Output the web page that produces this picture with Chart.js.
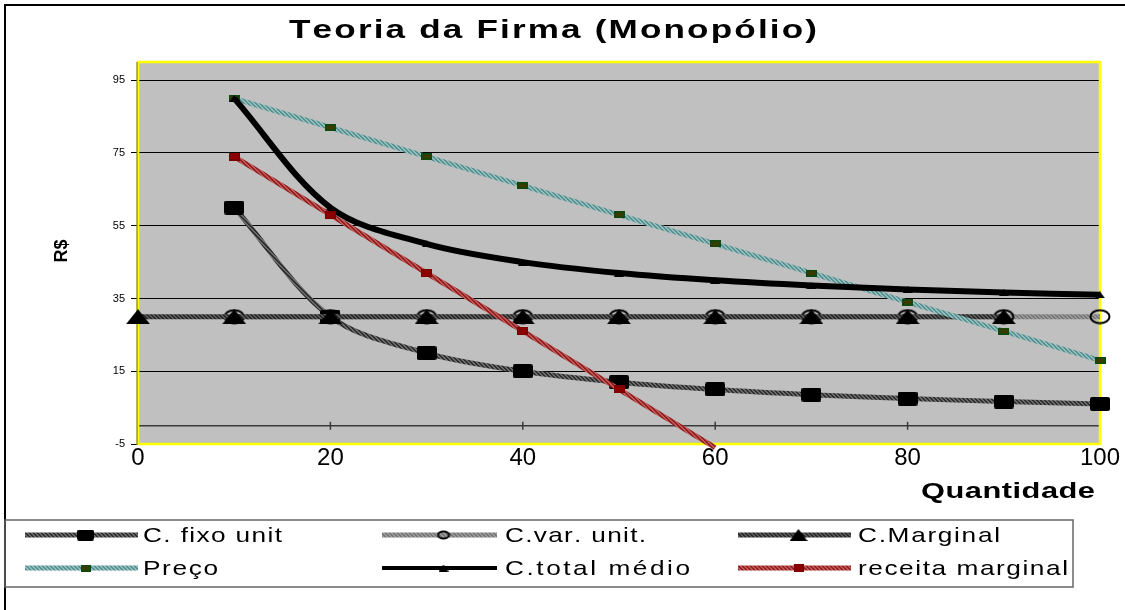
<!DOCTYPE html>
<html><head><meta charset="utf-8">
<script src="https://cdn.jsdelivr.net/npm/chart.js@4.4.1/dist/chart.umd.min.js"></script>
<style>html,body{margin:0;padding:0;background:#fff}#wrap{width:1125px;height:610px;position:relative}canvas{display:block}</style>
</head><body><div id="wrap"><canvas id="c" width="1125" height="610"></canvas></div>
<script>
// ---- data ----
const TITLE = 'Teoria da Firma (Monopólio)';
const X_TITLE = 'Quantidade';
const Y_TITLE = 'R$';
const SERIES_NAMES = ['C. fixo unit', 'C.var. unit.', 'C.Marginal', 'Preço', 'C.total médio', 'receita marginal'];
const QTY = [10, 20, 30, 40, 50, 60, 70, 80, 90, 100];
const QTY_MARGINAL = [0, 10, 20, 30, 40, 50, 60, 70, 80, 90];
const QTY_RECEITA = [10, 20, 30, 40, 50, 60];
const C_FIXO = [60, 30, 20, 15, 12, 10, 8.57, 7.5, 6.67, 6];
const C_VAR = [30, 30, 30, 30, 30, 30, 30, 30, 30, 30];
const C_MARGINAL = [30, 30, 30, 30, 30, 30, 30, 30, 30, 30];
const PRECO = [90, 82, 74, 66, 58, 50, 42, 34, 26, 18];
const C_TOTAL = [90, 60, 50, 45, 42, 40, 38.57, 37.5, 36.67, 36];
const RECEITA = [74, 58, 42, 26, 10, -6];
const X_TICKS = [0, 20, 40, 60, 80, 100];
const Y_TICKS = [-5, 15, 35, 55, 75, 95];
const Y_MIN = -5, Y_MAX = 100, X_MIN = 0, X_MAX = 100;

// ---- styles ----
const canvas = document.getElementById('c');
const ctx = canvas.getContext('2d');
function hatch(a, b) {
  const c = document.createElement('canvas'); c.width = 4; c.height = 4;
  const g = c.getContext('2d');
  g.fillStyle = b; g.fillRect(0, 0, 4, 4);
  g.fillStyle = a;
  for (let i = 0; i < 4; i++) { g.fillRect(i, i, 1, 1); g.fillRect((i + 1) % 4, i, 1, 1); }
  return ctx.createPattern(c, 'repeat');
}
function marker(w, h, fn) { const c = document.createElement('canvas'); c.width = w; c.height = h; fn(c.getContext('2d'), w, h); return c; }
const rectM = (w, h, fill, stroke, lw, r) => marker(w, h, g => {
  g.fillStyle = fill; g.beginPath();
  if (g.roundRect) g.roundRect(0, 0, w, h, r || 0); else g.rect(0, 0, w, h);
  g.fill();
  if (stroke) { g.strokeStyle = stroke; g.lineWidth = lw; g.strokeRect(lw / 2, lw / 2, w - lw, h - lw); }
});
const ellM = (w, h) => marker(w, h, g => { g.strokeStyle = '#000'; g.lineWidth = 2; g.beginPath(); g.ellipse(w / 2, h / 2, w / 2 - 1.5, h / 2 - 1.5, 0, 0, Math.PI * 2); g.stroke(); });
const triM = (w, h) => marker(w, h, g => { g.fillStyle = '#000'; g.beginPath(); g.moveTo(0, h); g.lineTo(w, h); g.lineTo(w / 2, 0); g.closePath(); g.fill(); });

const LINE_COLORS = [hatch('#2e2e2e', '#6a6a6a'), hatch('#777777', '#9a9a9a'), hatch('#2a2a2a', '#585858'), hatch('#5c8e8e', '#8fc0c0'), '#000000', hatch('#8e2020', '#c25656')];
const LINE_WIDTHS = [5, 5, 5, 5, 6, 5];
const TENSIONS = [0.33, 0, 0, 0, 0.33, 0];
const MARKERS = [rectM(20, 14, '#000', null, 0, 2), ellM(22, 16), triM(24, 15), rectM(11, 7, '#3b3b00', '#0e4a0e', 1.5), triM(10, 7), rectM(11, 8, '#8b0000', '#7a0000', 1)];
const LEGEND_MARKERS = [rectM(17, 11, '#000', null, 0, 2), ellM(14, 10), triM(18, 12), rectM(10, 7, '#3b3b00', '#0e4a0e', 1.5), triM(10, 7), rectM(10, 8, '#8b0000', '#7a0000', 1)];

const mkPts = (xs, ys) => xs.map((x, i) => ({ x: x, y: ys[i] }));
const SERIES = [mkPts(QTY, C_FIXO), mkPts(QTY, C_VAR), mkPts(QTY_MARGINAL, C_MARGINAL), mkPts(QTY, PRECO), mkPts(QTY, C_TOTAL), mkPts(QTY_RECEITA, RECEITA)];

const datasets = SERIES.map((d, i) => ({
  label: SERIES_NAMES[i], data: d,
  borderColor: LINE_COLORS[i], backgroundColor: 'transparent',
  borderWidth: LINE_WIDTHS[i], tension: TENSIONS[i],
  pointStyle: MARKERS[i],
  pointRadius: c => (c.raw && c.raw.y < Y_MIN) ? 0 : 5,
  pointBorderWidth: 0,
  clip: false, order: 6 - i, fill: false
}));

function drawFit(c, text, x, y, width, align, font, sxMax) {
  c.save();
  c.font = font;
  const w0 = c.measureText(text).width;
  const sx = Math.min(Math.max(width / w0, 1), sxMax);
  const chars = Array.from(text);
  let wc = 0; chars.forEach(ch => wc += c.measureText(ch).width);
  const sp = chars.length > 1 ? (width / sx - wc) / (chars.length - 1) : 0;
  const left = align === 'center' ? x - width / 2 : (align === 'right' ? x - width : x);
  c.translate(left, y); c.scale(sx, 1);
  c.textAlign = 'left';
  let cur = 0;
  chars.forEach(ch => { c.fillText(ch, cur, 0); cur += c.measureText(ch).width + sp; });
  c.restore();
}

const FONT = '"Liberation Sans", Arial, sans-serif';
const decor = {
  id: 'decor',
  beforeDraw(chart) {
    const c = chart.ctx, a = chart.chartArea;
    c.save();
    c.fillStyle = '#fff'; c.fillRect(0, 0, chart.width, chart.height);
    c.strokeStyle = '#000'; c.lineWidth = 2; c.strokeRect(5, 5, 1400, 900);
    c.fillStyle = '#c0c0c0'; c.fillRect(a.left, a.top, a.right - a.left, a.bottom - a.top);
    c.restore();
  },
  beforeDatasetsDraw(chart) {
    const c = chart.ctx, a = chart.chartArea, xs = chart.scales.x, ys = chart.scales.y;
    c.save();
    const y0 = ys.getPixelForValue(0);
    c.strokeStyle = '#3a3a3a'; c.lineWidth = 1.5;
    c.beginPath(); c.moveTo(a.left, y0); c.lineTo(a.right, y0); c.stroke();
    X_TICKS.forEach(v => { const px = xs.getPixelForValue(v); c.beginPath(); c.moveTo(px, y0 - 4); c.lineTo(px, y0 + 4); c.stroke(); });
    c.strokeStyle = '#ffff00'; c.lineWidth = 2.5;
    c.strokeRect(a.left, a.top, a.right - a.left, a.bottom - a.top);
    c.strokeStyle = '#6b6b00'; c.lineWidth = 1;
    c.beginPath(); c.moveTo(a.left - 1, a.top); c.lineTo(a.left - 1, a.bottom + 1); c.stroke();
    c.restore();
  },
  afterDraw(chart) {
    const c = chart.ctx;
    c.save();
    c.fillStyle = '#000';
    c.textBaseline = 'alphabetic';
    drawFit(c, TITLE, 553, 38, 528, 'center', 'bold 26px ' + FONT, 1.35);
    drawFit(c, X_TITLE, 921, 498, 174, 'left', 'bold 22px ' + FONT, 1.4);
    c.save(); c.translate(62, 251); c.rotate(-Math.PI / 2);
    c.font = 'bold 18px ' + FONT; c.textAlign = 'center'; c.textBaseline = 'middle';
    c.fillText(Y_TITLE, 0, 0); c.restore();
    c.strokeStyle = '#666'; c.lineWidth = 1.5;
    c.strokeRect(5, 520, 1068, 67);
    const LX = [25, 382, 738], TX = [143, 505, 858], RY = [535, 568], LW = [113, 115, 113];
    const TW = [139, 141, 142, 75, 185, 210];
    chart.data.datasets.forEach((ds, i) => {
      const col = i % 3, row = Math.floor(i / 3);
      const y = RY[row];
      c.strokeStyle = ds.borderColor; c.lineWidth = i === 4 ? 4 : 5;
      c.beginPath(); c.moveTo(LX[col], y); c.lineTo(LX[col] + LW[col], y); c.stroke();
      const m = LEGEND_MARKERS[i];
      c.drawImage(m, LX[col] + LW[col] / 2 - m.width / 2 + 4, y - m.height / 2);
      c.fillStyle = '#000'; c.textBaseline = 'middle';
      drawFit(c, ds.label, TX[col], y + 1, TW[i], 'left', '21px ' + FONT, 1.25);
    });
    c.restore();
  }
};

new Chart(ctx, {
  type: 'line',
  data: { datasets: datasets },
  options: {
    responsive: false, animation: false, devicePixelRatio: 1, events: [],
    layout: { padding: { left: 0, top: 62, right: 25, bottom: 126 } },
    plugins: { legend: { display: false }, tooltip: { enabled: false }, title: { display: false } },
    scales: {
      x: {
        type: 'linear', min: X_MIN, max: X_MAX,
        afterBuildTicks: s => { s.ticks = X_TICKS.map(v => ({ value: v })); },
        afterFit: s => { s.height = 40; },
        grid: { display: false, drawTicks: false },
        border: { display: false },
        ticks: { color: '#000', font: { family: FONT, size: 24 }, padding: 0, maxRotation: 0, autoSkip: false }
      },
      y: {
        type: 'linear', min: Y_MIN, max: Y_MAX,
        afterBuildTicks: s => { s.ticks = Y_TICKS.map(v => ({ value: v })); },
        afterFit: s => { s.width = 138; },
        grid: { color: '#000', lineWidth: 1, drawTicks: true, tickLength: 7, tickColor: '#000' },
        border: { display: false },
        ticks: { color: '#000', font: { family: FONT, size: 11 }, padding: 6 }
      }
    }
  },
  plugins: [decor]
});
</script></body></html>
